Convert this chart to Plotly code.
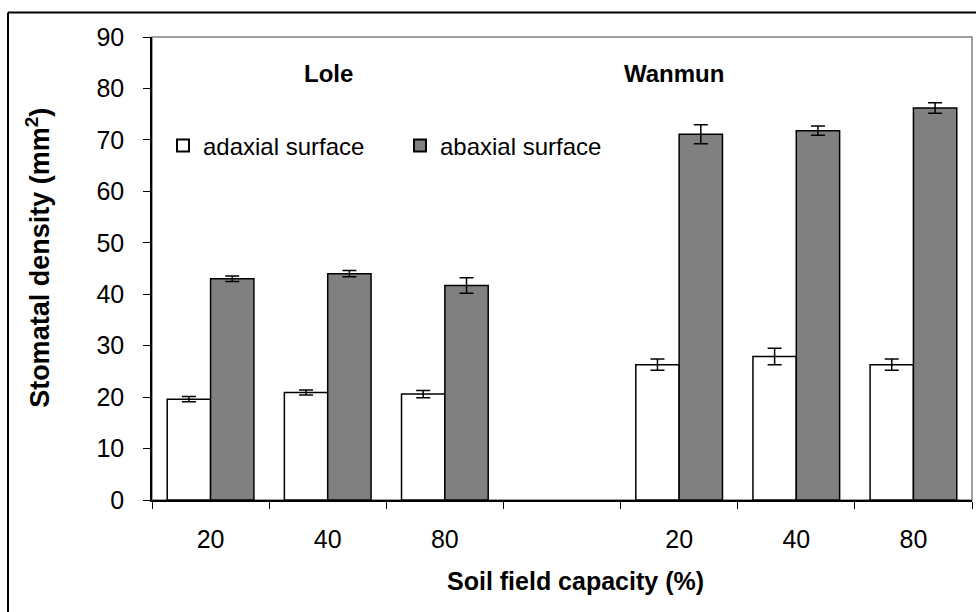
import plotly.graph_objects as go

# ---- data ----
positions = [0, 1, 2, 3, 4, 5, 6]
tick_labels = ["20", "40", "80", "", "20", "40", "80"]
adaxial = [19.6, 20.9, 20.6, None, 26.3, 27.9, 26.3]
adaxial_err = [0.5, 0.5, 0.7, None, 1.1, 1.6, 1.1]
abaxial = [43.0, 44.0, 41.7, None, 71.1, 71.8, 76.2]
abaxial_err = [0.55, 0.6, 1.5, None, 1.85, 0.9, 1.0]
group_names = ["Lole", "Wanmun"]
group_centers = [1, 4]

FONT = "Liberation Sans, Arial, sans-serif"

tv = [p for p, t in zip(positions, tick_labels) if t]
tt = [t for t in tick_labels if t]

fig = go.Figure()
fig.add_trace(go.Bar(
    x=positions, y=adaxial, name="adaxial surface",
    marker=dict(color="white", line=dict(color="black", width=1.5)),
    error_y=dict(type="data", array=adaxial_err, color="black", thickness=1.5, width=7),
))
fig.add_trace(go.Bar(
    x=positions, y=abaxial, name="abaxial surface",
    marker=dict(color="#808080", line=dict(color="black", width=1.5)),
    error_y=dict(type="data", array=abaxial_err, color="black", thickness=1.5, width=7),
))

annotations = []
for name, c, xs in zip(group_names, group_centers, [1, -5]):
    annotations.append(dict(x=c, y=1.0, xref="x", yref="paper", yanchor="middle",
                            yshift=-36, xshift=xs, text="<b>%s</b>" % name, showarrow=False,
                            font=dict(family=FONT, size=24, color="black")))
annotations.append(dict(x=0.516, y=-0.175, xref="paper", yref="paper", yanchor="middle",
                        xanchor="center",
                        text="<b>Soil field capacity (%)</b>", showarrow=False,
                        font=dict(family=FONT, size=25, color="black")))
annotations.append(dict(x=-0.139, y=0.523, xref="paper", yref="paper", textangle=-90,
                        xanchor="center", yanchor="middle",
                        text="<b>Stomatal density (mm<sup>2</sup>)</b>", showarrow=False,
                        font=dict(family=FONT, size=27, color="black")))

shapes = [
    dict(type="rect", xref="paper", yref="paper", x0=0, y0=0, x1=1, y1=1,
         line=dict(color="#808080", width=1.5), layer="below"),
    dict(type="line", xref="paper", yref="paper", x0=-0.1756, x1=1.1, y0=1.053, y1=1.053,
         line=dict(color="black", width=2)),
    dict(type="line", xref="paper", yref="paper", x0=-0.1756, x1=-0.1756, y0=1.053, y1=-0.4,
         line=dict(color="black", width=2)),
]

fig.update_layout(
    width=976, height=612,
    margin=dict(l=152, r=4, t=37, b=112, autoexpand=False),
    paper_bgcolor="white", plot_bgcolor="white",
    barmode="group", bargap=0.26, bargroupgap=0,
    font=dict(family=FONT, size=25, color="black"),
    showlegend=True,
    legend=dict(orientation="h", x=0.0134, y=0.765, xanchor="left", yanchor="middle",
                bgcolor="rgba(0,0,0,0)", font=dict(family=FONT, size=24),
                entrywidth=192, entrywidthmode="pixels", itemsizing="constant"),
    annotations=annotations,
    shapes=shapes,
    xaxis=dict(range=[-0.5, 6.5], tickmode="array", tickvals=tv, ticktext=tt,
               ticks="", showline=True, linecolor="black", linewidth=1.5, showgrid=False,
               zeroline=False, ticklabelstandoff=16,
               minor=dict(tickmode="array", tickvals=[-0.5, 0.5, 1.5, 2.5, 3.5, 4.5, 5.5, 6.5],
                          ticks="outside", ticklen=7, tickcolor="black", tickwidth=1.2,
                          showgrid=False)),
    yaxis=dict(range=[0, 90], dtick=10, tick0=0, ticks="outside", ticklen=7,
               tickcolor="black", tickwidth=1.2, showline=True, linecolor="black",
               linewidth=1.5, showgrid=False, zeroline=False, ticklabelstandoff=14),
)

fig.write_html("out.html")
